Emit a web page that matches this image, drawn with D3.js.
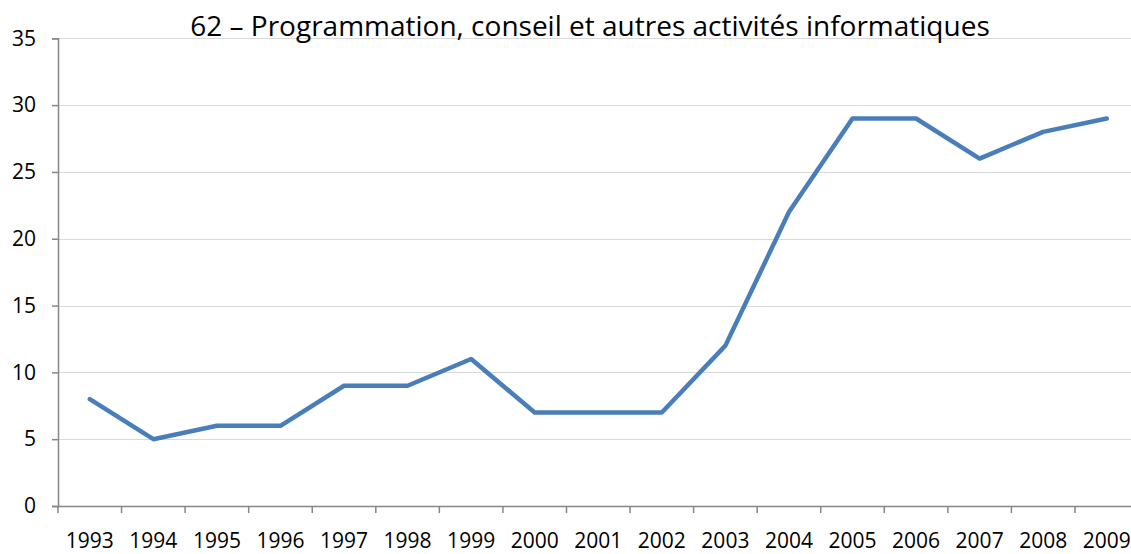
<!DOCTYPE html>
<html><head><meta charset="utf-8">
<script src="https://cdn.jsdelivr.net/npm/d3@7"></script>
<style>body{margin:0;background:#fff;overflow:hidden}svg{display:block}text{font-family:"Open Sans",sans-serif;fill:#000}</style>
</head><body><svg id="c" width="1131" height="554"></svg>
<script>
const title = "62 – Programmation, conseil et autres activités informatiques";
const years = ["1993","1994","1995","1996","1997","1998","1999","2000","2001","2002","2003","2004","2005","2006","2007","2008","2009"];
const values = [8,5,6,6,9,9,11,7,7,7,12,22,29,29,26,28,29];
const yTicks = [0,5,10,15,20,25,30,35];

(function(){
const svg = d3.select("#c");
const mLeft = 58, mTop = 38.3, mBottom = 506, bandW = 63.56;
const x = d3.scaleBand().domain(years).range([mLeft, mLeft + bandW*years.length]).padding(0);
const y = d3.scaleLinear().domain([0,35]).range([mBottom, mTop]);

// gridlines
svg.append("g").selectAll("line").data(yTicks.filter(d=>d>0)).join("line")
  .attr("x1", mLeft).attr("x2", 1131)
  .attr("y1", d=>Math.round(y(d))+0.5).attr("y2", d=>Math.round(y(d))+0.5)
  .attr("stroke", "#d9d9d9").attr("stroke-width", 1);

// y axis
const ya = svg.append("g").attr("transform", `translate(${mLeft},0)`)
  .call(d3.axisLeft(y).tickValues(yTicks).tickSize(6).tickPadding(16));
ya.select(".domain").attr("stroke", "#868686").attr("stroke-width", 1.5);
ya.selectAll(".tick line").attr("stroke", "#868686").attr("stroke-width", 1.5);
ya.selectAll(".tick text").attr("font-size", 21).attr("font-family", "Open Sans").attr("fill", "#000");

// x axis
const xa = svg.append("g").attr("transform", `translate(0,${mBottom})`)
  .call(d3.axisBottom(x).tickSize(0).tickPadding(0));
xa.select(".domain").attr("stroke", "#868686").attr("stroke-width", 1.5);
xa.selectAll(".tick text").attr("font-size", 21).attr("font-family", "Open Sans").attr("fill", "#000")
  .attr("dy", null).attr("y", 42);
// tick marks at band boundaries
svg.append("g").selectAll("line").data(years).join("line")
  .attr("x1", d=>x(d)).attr("x2", d=>x(d))
  .attr("y1", mBottom).attr("y2", mBottom+7)
  .attr("stroke", "#868686").attr("stroke-width", 1.5);

// line
const line = d3.line().x((d,i)=>x(years[i]) + x.bandwidth()/2).y(d=>y(d));
svg.append("path").datum(values).attr("d", line)
  .attr("fill","none").attr("stroke","#4a7ebb").attr("stroke-width",4.5)
  .attr("stroke-linejoin","round").attr("stroke-linecap","round");

// title
svg.append("text").attr("x", 590).attr("y", 36).attr("text-anchor","middle")
  .attr("font-size", 28).text(title);
})();
</script></body></html>
